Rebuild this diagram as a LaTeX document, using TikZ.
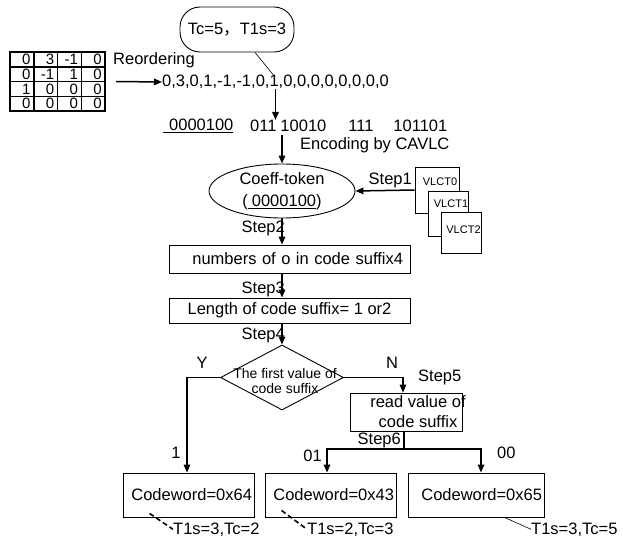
\documentclass[tikz,border=0pt]{standalone}
\usepackage{fontspec}
\setmainfont{Liberation Sans}
\newfontfamily\cjk{Noto Sans CJK SC}
\usetikzlibrary{arrows.meta,calc,shapes.geometric}

\begin{document}
\begin{tikzpicture}[
  x=1pt, y=-1pt,
  lbl/.style={inner sep=0pt, font=\fontsize{16.5}{20}\selectfont},
  small/.style={inner sep=0pt, font=\fontsize{14}{15}\selectfont, align=center},
  box/.style={
    draw, line width=0.9pt, fill=white, inner sep=0pt,
    font=\fontsize{16.5}{20}\selectfont
  },
  cwbox/.style={box, minimum height=44pt, inner xsep=2pt, align=right},
  vlct/.style={draw, line width=0.8pt, fill=white, inner sep=0pt},
  vtext/.style={inner sep=0pt, font=\fontsize{11}{12}\selectfont},
  cellnum/.style={inner sep=0pt, anchor=east, font=\fontsize{15}{16}\selectfont},
  flow/.style={-{Triangle[length=8pt,width=6.5pt]}, line width=1.5pt},
  plain/.style={line width=1.5pt},
  tagline/.style={line width=1.6pt, dash pattern=on 5pt off 3pt}
]
\useasboundingbox (0,0) rectangle (623,538);
\clip (0,0) rectangle (623,538);

% 4x4 block of coefficients.
\node[draw, line width=2pt, minimum width=95pt, minimum height=59pt, inner sep=0pt]
  (mat) at (57.5,81.5) {};
\foreach \x in {33.75,57.5,81.25}
  \draw[line width=1.5pt] (\x,52) -- (\x,111);
\foreach \y in {66.75,81.5,96.25}
  \draw[line width=1.5pt] (10,\y) -- (105,\y);
\foreach \row [count=\r] in {{0,3,-1,0},{0,-1,1,0},{1,0,0,0},{0,0,0,0}}
  \foreach \v [count=\c] in \row
    \node[cellnum] (m\r\c) at ({10+23.75*\c-3}, {52+14.75*(\r-0.5)}) {\v};

\node[lbl, anchor=west] (reord) at (113,60) {Reordering};
\node[lbl, anchor=west] (seq) at (162,82) {0,3,0,1,-1,-1,0,1,0,0,0,0,0,0,0,0};
\draw[flow] ([xshift=10pt]mat.east) -- (seq.west);

% Total and trailing ones.
\node[box, rounded corners=20pt, minimum width=114pt, minimum height=45pt]
  (tc) at (237,29.5) {Tc=5{\cjk ，}T1s=3};
\coordinate (lastone) at (275,77);
\draw[line width=0.6pt] ([xshift=18pt]tc.south) -- (lastone);

% Bit stream.
\node[lbl, anchor=west] (code1) at (163,126) {\underline{\hspace{6pt}0000100}};
\node[lbl, anchor=west] (bits) at (250,126)
  {011\hspace{4pt}10010\hspace{22pt}111\hspace{20pt}101101};
\node[lbl, anchor=west] (enc) at (300,145) {Encoding by CAVLC};
\draw[flow] (seq.south) -- (seq.south |- bits.north);

% Decoding steps.
\node[draw, ellipse, line width=0.9pt, minimum width=146pt, minimum height=54pt,
  inner sep=0pt, align=center, font=\fontsize{16.5}{22}\selectfont]
  (coeff) at (282,191) {Coeff-token\\(\underline{\hspace{4pt}0000100})};
\draw[flow] ([yshift=-3pt]coeff.north |- bits.south) -- (coeff.north);

\node[vlct, minimum width=44pt, minimum height=46pt] (v0) at (437,190) {};
\node[vtext] (v0t) at (440,182) {VLCT0};
\node[vlct, minimum width=40pt, minimum height=45pt] (v1) at (448,213.5) {};
\node[vtext] (v1t) at (451,204) {VLCT1};
\node[vlct, minimum width=40pt, minimum height=41pt] (v2) at (461,232.5) {};
\node[vtext] (v2t) at (463.5,230) {VLCT2};
\draw[flow] (v0.west) -- (coeff.east);
\node[lbl, anchor=east] (s1) at (412,180) {Step1};

\node[box, minimum height=28pt, text width=227pt, inner xsep=7pt, align=right]
  (num) at (289.5,259) {numbers of o in code suffix4};
\node[box, minimum width=241pt, minimum height=25pt]
  (len) at (289.5,310.5) {Length of code suffix= 1 or2};
\node[draw, diamond, line width=0.9pt, minimum width=123pt, minimum height=65pt,
  inner sep=0pt] (test) at (282,377.5) {};
\node[small] (testtxt) at (285,381) {The first value of\\code suffix};

\draw[flow] (coeff.south) -- (coeff.south |- num.north);
\draw[flow] (coeff.south |- num.south) -- (coeff.south |- len.north);
\draw[flow] (coeff.south |- len.south) -- (test.north);
\node[lbl, anchor=east] (s2) at (285,228) {Step2};
\node[lbl, anchor=east] (s3) at (285,289) {Step3};
\node[lbl, anchor=east] (s4) at (285,335) {Step4};

% Branches.
\node[box, minimum width=112pt, minimum height=38pt] (read) at (406,412) {};
\node[lbl, align=center, font=\fontsize{16.5}{20}\selectfont]
  (readtxt) at (418,412) {read value of\\code suffix};

\node[cwbox, text width=127pt] (cwL) at (188.5,495) {Codeword=0x64};
\node[cwbox, text width=127pt] (cwM) at (330.5,495) {Codeword=0x43};
\node[cwbox, text width=132pt] (cwR) at (476,495) {Codeword=0x65};

\draw[flow] (test.west) -| ([xshift=-1.5pt]cwL.north);
\draw[flow] (test.east) -| ([xshift=-3pt]read.north);
\node[lbl] (yes) at (202,363) {Y};
\node[lbl] (no) at (392,363) {N};
\node[lbl] (one) at (176,453) {1};
\node[lbl, anchor=west] (s5) at (418,377) {Step5};

\coordinate (fork) at (404,449);
\draw[plain] (read.south -| fork) -- (fork);
\draw[flow] (fork) -| ([xshift=-3.5pt]cwM.north);
\draw[flow] (fork) -| ([xshift=5pt]cwR.north);
\node[lbl, anchor=east] (s6) at (401,440) {Step6};
\node[lbl, anchor=east] (b01) at (322,456) {01};
\node[lbl, anchor=west] (b00) at (497,453) {00};

% Resulting Tc and T1s values.
\node[lbl, anchor=base west] (tagL) at (173,534) {T1s=3,Tc=2};
\node[lbl, anchor=base west] (tagM) at (307,534) {T1s=2,Tc=3};
\node[lbl, anchor=base west] (tagR) at (531,534) {T1s=3,Tc=5};
\draw[tagline] ([shift={(27pt,4pt)}]cwL.south west) -- (tagL.west);
\draw[tagline] ([shift={(17pt,7pt)}]cwM.south west) -- (tagM.west);
\draw[line width=0.6pt] ([shift={(97pt,0pt)}]cwR.south west) -- (tagR.west);

\end{tikzpicture}
\end{document}
